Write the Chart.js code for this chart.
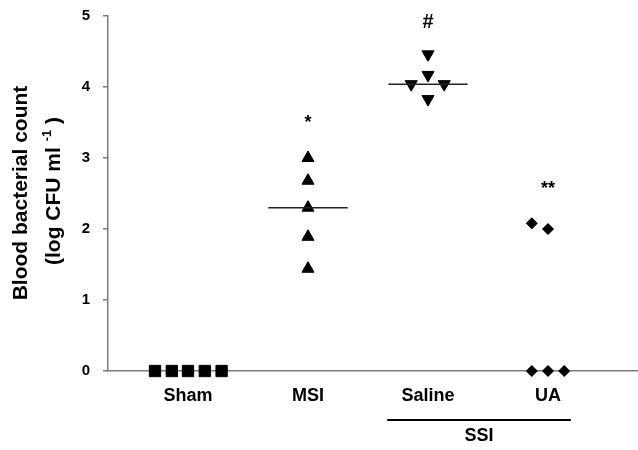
<!DOCTYPE html>
<html>
<head>
<meta charset="utf-8">
<script src="https://cdn.jsdelivr.net/npm/chart.js@4"></script>
<style>
  html, body { margin: 0; padding: 0; background: #fff; }
  #chart { display: block; }
</style>
</head>
<body>
<canvas id="chart" width="638" height="450"></canvas>
<script>
const groups = ['Sham', 'MSI', 'Saline', 'UA'];
const yTicks = [0, 1, 2, 3, 4, 5];

const shamValues = [0, 0, 0, 0, 0];
const msiValues = [3.0, 2.68, 2.30, 1.89, 1.44];
const salineValues = [4.46, 4.17, 4.04, 4.04, 3.83];
const uaValues = [2.08, 2.0, 0, 0, 0];

// sideways spread of each dot, in group widths
const shamSpread = [-0.275, -0.135, 0, 0.14, 0.28];
const msiSpread = [0, 0, 0, 0, 0];
const salineSpread = [0, 0, -0.14, 0.135, 0];
const uaSpread = [-0.135, 0, -0.135, 0, 0.135];

const medianGroups = ['MSI', 'Saline'];
const medianValues = [2.30, 4.04];

const markLabels = ['*', '#', '**'];
const markGroups = ['MSI', 'Saline', 'UA'];
const markValues = [3.55, 4.93, 2.62];

const ssiGroups = ['Saline', 'UA'];

const FONT = 'Arial, "Liberation Sans", sans-serif';
const AXIS_GREY = '#7a7a7a';

function groupX(name) {
    return groups.indexOf(name) + 1;
}

function toPoints(name, values, spread) {
    const x = groupX(name);
    return values.map((v, i) => ({ x: x + spread[i], y: v }));
}

function dotSet(label, data, style, radius, rotation) {
    return {
        type: 'scatter',
        label: label,
        data: data,
        pointStyle: style,
        pointRadius: radius,
        pointRotation: rotation || 0,
        backgroundColor: '#000',
        borderColor: '#000',
        borderWidth: 1,
        clip: false
    };
}

const medianSets = medianGroups.map((g, i) => ({
    type: 'line',
    label: g + ' median',
    data: [
        { x: groupX(g) - 0.33, y: medianValues[i] },
        { x: groupX(g) + 0.33, y: medianValues[i] }
    ],
    borderColor: '#222',
    borderWidth: 1.5,
    pointRadius: 0,
    clip: false
}));

const extrasPlugin = {
    id: 'extras',
    afterDraw(chart) {
        const ctx = chart.ctx;
        const xs = chart.scales.x;
        const ys = chart.scales.y;
        const area = chart.chartArea;
        ctx.save();
        ctx.fillStyle = '#000';

        // y axis title, two lines, second with superscript
        ctx.save();
        ctx.translate(27, 193);
        ctx.rotate(-Math.PI / 2);
        ctx.font = 'bold 21px ' + FONT;
        ctx.textAlign = 'center';
        ctx.textBaseline = 'alphabetic';
        ctx.fillText('Blood bacterial count', 0, 0);
        ctx.restore();

        ctx.save();
        ctx.translate(60, 191);
        ctx.rotate(-Math.PI / 2);
        ctx.textBaseline = 'alphabetic';
        ctx.textAlign = 'left';
        const big = 'bold 21px ' + FONT;
        const small = 'bold 13px ' + FONT;
        const partA = '(log CFU ml ';
        const partB = '-1';
        const partC = ' )';
        ctx.font = big;
        const wA = ctx.measureText(partA).width;
        const wC = ctx.measureText(partC).width;
        ctx.font = small;
        const wB = ctx.measureText(partB).width;
        let x0 = -(wA + wB + wC) / 2;
        ctx.font = big;
        ctx.fillText(partA, x0, 0);
        ctx.font = small;
        ctx.fillText(partB, x0 + wA, -9);
        ctx.font = big;
        ctx.fillText(partC, x0 + wA + wB, 0);
        ctx.restore();

        // significance marks
        ctx.textAlign = 'center';
        ctx.textBaseline = 'alphabetic';
        markLabels.forEach((t, i) => {
            ctx.font = (t === '#' ? 'bold 20px ' : 'bold 18px ') + FONT;
            const m = ctx.measureText(t);
            const px = xs.getPixelForValue(groupX(markGroups[i]));
            const py = ys.getPixelForValue(markValues[i]);
            const shift = (m.actualBoundingBoxAscent - m.actualBoundingBoxDescent) / 2;
            ctx.fillText(t, px, py + shift);
        });

        // SSI bracket under Saline and UA
        const left = xs.getPixelForValue(groupX(ssiGroups[0]) - 0.34);
        const right = xs.getPixelForValue(groupX(ssiGroups[1]) + 0.19);
        const lineY = area.bottom + 49;
        ctx.strokeStyle = '#000';
        ctx.lineWidth = 2;
        ctx.beginPath();
        ctx.moveTo(left, lineY);
        ctx.lineTo(right, lineY);
        ctx.stroke();
        ctx.font = 'bold 18px ' + FONT;
        ctx.textBaseline = 'top';
        ctx.fillText('SSI', (left + right) / 2, lineY + 7);

        ctx.restore();
    }
};

new Chart(document.getElementById('chart'), {
    type: 'scatter',
    data: {
        datasets: [
            ...medianSets,
            dotSet('Sham', toPoints('Sham', shamValues, shamSpread), 'rect', 8),
            dotSet('MSI', toPoints('MSI', msiValues, msiSpread), 'triangle', 7),
            dotSet('Saline', toPoints('Saline', salineValues, salineSpread), 'triangle', 7, 180),
            dotSet('UA', toPoints('UA', uaValues, uaSpread), 'rectRot', 5.5)
        ]
    },
    options: {
        responsive: false,
        animation: false,
        layout: {
            autoPadding: false,
            padding: { top: 16, right: 0, bottom: 0, left: 0 }
        },
        plugins: {
            legend: { display: false },
            tooltip: { enabled: false }
        },
        scales: {
            x: {
                type: 'linear',
                min: 1 / 3,
                max: 4.75,
                afterBuildTicks: scale => {
                    scale.ticks = groups.map((g, i) => ({ value: i + 1 }));
                },
                afterFit: scale => {
                    scale.height = 79;
                    scale.paddingLeft = 0;
                    scale.paddingRight = 0;
                },
                ticks: {
                    callback: v => groups[v - 1] || '',
                    color: '#000',
                    font: { family: FONT, size: 18, weight: 'bold' },
                    padding: 14,
                    maxRotation: 0,
                    autoSkip: false
                },
                grid: { display: false, drawTicks: false },
                border: { display: true, color: AXIS_GREY, width: 1.5 }
            },
            y: {
                min: 0,
                max: 5,
                afterBuildTicks: scale => {
                    scale.ticks = yTicks.map(v => ({ value: v }));
                },
                afterFit: scale => {
                    scale.width = 108;
                    scale.paddingTop = 0;
                    scale.paddingBottom = 0;
                },
                ticks: {
                    color: '#000',
                    font: { family: FONT, size: 15, weight: 'bold' },
                    padding: 13
                },
                grid: {
                    display: true,
                    drawOnChartArea: false,
                    drawTicks: true,
                    tickLength: 5,
                    color: AXIS_GREY,
                    lineWidth: 1.5
                },
                border: { display: true, color: AXIS_GREY, width: 1.5 }
            }
        }
    },
    plugins: [extrasPlugin]
});
</script>
</body>
</html>
